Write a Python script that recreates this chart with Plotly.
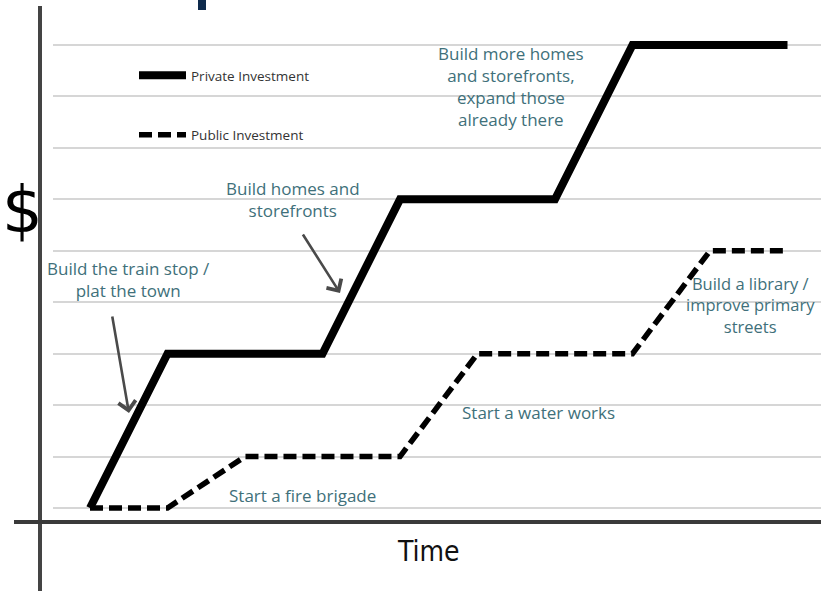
import plotly.graph_objects as go

# ---- data (time steps vs. investment level) ----
private_t = [0, 1, 3, 4, 6, 7, 9]
private_v = [0, 3, 3, 6, 6, 9, 9]
public_t = [0, 1, 2, 4, 5, 7, 8, 9]
public_v = [0, 0, 1, 1, 3, 3, 5, 5]

series_names = ["Private Investment", "Public Investment"]

notes = [
    "Build the train stop /<br>plat the town",
    "Build homes and<br>storefronts",
    "Build more homes<br>and storefronts,<br>expand those<br>already there",
    "Build a library /<br>improve primary<br>streets",
    "Start a water works",
    "Start a fire brigade",
]
note_x = [0.503, 2.62, 5.43, 8.52, 4.774, 1.768]
note_y = [4.45, 5.99, 8.20, 3.95, 1.85, 0.25]

W, H = 821, 591
L, R, T, B = 53, 0, 0, 69
TEAL = "#40707a"
TEXT_FONT = "Open Sans, Noto Sans, sans-serif"

fig = go.Figure()
fig.add_trace(go.Scatter(
    x=private_t, y=private_v, mode="lines", name=series_names[0],
    legendgroup="a", line=dict(color="black", width=8), hoverinfo="skip"))
fig.add_trace(go.Scatter(
    x=public_t, y=public_v, mode="lines", name=series_names[1],
    legendgroup="b", line=dict(color="black", width=5.5, dash="13px,6px"),
    hoverinfo="skip"))

annotations = []
for i, (t, xx, yy) in enumerate(zip(notes, note_x, note_y)):
    left = i >= 4
    annotations.append(dict(
        x=xx, y=yy, xref="x", yref="y", text=t, showarrow=False,
        xanchor="left" if left else "center", yanchor="middle",
        align="center",
        font=dict(family=TEXT_FONT, size=16.5 if i == 3 else 17, color=TEAL)))

# arrows
for tip, tail in [((0.503, 1.847), (0.284, 3.752)), ((3.226, 4.18), (2.735, 5.346))]:
    annotations.append(dict(
        x=tip[0], y=tip[1], ax=tail[0], ay=tail[1], xref="x", yref="y",
        axref="x", ayref="y", text="", showarrow=True, arrowhead=4,
        arrowsize=1.3, arrowwidth=2.6, arrowcolor="#4a4a4a"))

annotations.append(dict(
    x=(22 - L) / 768, y=(522 - 210) / 522, xref="paper", yref="paper",
    text="$", showarrow=False, xanchor="center", yanchor="middle",
    font=dict(family="DejaVu Sans", size=64, color="black")))
annotations.append(dict(
    x=(428 - L) / 768, y=(522 - 551) / 522, xref="paper", yref="paper",
    text="Time", showarrow=False, xanchor="center", yanchor="middle",
    font=dict(family="Liberation Sans Narrow, DejaVu Sans Condensed, Roboto",
              size=28, color="#111")))

shapes = [
    # white box behind the legend (covers gridlines only)
    dict(type="rect", xref="paper", yref="paper",
         x0=(125 - L) / 768, x1=(320 - L) / 768,
         y0=(522 - 172) / 522, y1=(522 - 28) / 522,
         fillcolor="white", line=dict(width=0), layer="between"),
    # vertical axis line
    dict(type="line", xref="paper", yref="paper",
         x0=(40 - L) / 768, x1=(40 - L) / 768,
         y0=(522 - 6) / 522, y1=(522 - 600) / 522,
         line=dict(color="#444", width=4)),
    # horizontal axis line
    dict(type="line", xref="paper", yref="paper",
         x0=(14 - L) / 768, x1=1.01, y0=0, y1=0,
         line=dict(color="#3a3a3a", width=4)),
    # navy fragment at top
    dict(type="rect", xref="paper", yref="paper",
         x0=(198 - L) / 768, x1=(206 - L) / 768,
         y0=(522 - 10) / 522, y1=1.05,
         fillcolor="#0e2a4c", line=dict(width=0)),
]

fig.update_layout(
    width=W, height=H, margin=dict(l=L, r=R, t=T, b=B, pad=0),
    paper_bgcolor="white", plot_bgcolor="white",
    showlegend=True,
    legend=dict(
        x=(134 - L) / 768, y=(522 - 60) / 522, xanchor="left", yanchor="top",
        bgcolor="rgba(0,0,0,0)", traceorder="grouped", tracegroupgap=39,
        itemwidth=47,
        font=dict(family="Open Sans, sans-serif", size=13.5, color="#333")),
    xaxis=dict(range=[-0.4774, 9.4323], showgrid=False, zeroline=False,
               showticklabels=False, ticks="", showline=False, fixedrange=True),
    yaxis=dict(range=[-0.272, 9.875], dtick=1, tick0=0, showgrid=True,
               gridcolor="#d6d6d6", gridwidth=1.5, zeroline=False,
               showticklabels=False, ticks="", showline=False, fixedrange=True),
    annotations=annotations,
    shapes=shapes,
)

fig.write_html("out.html")
